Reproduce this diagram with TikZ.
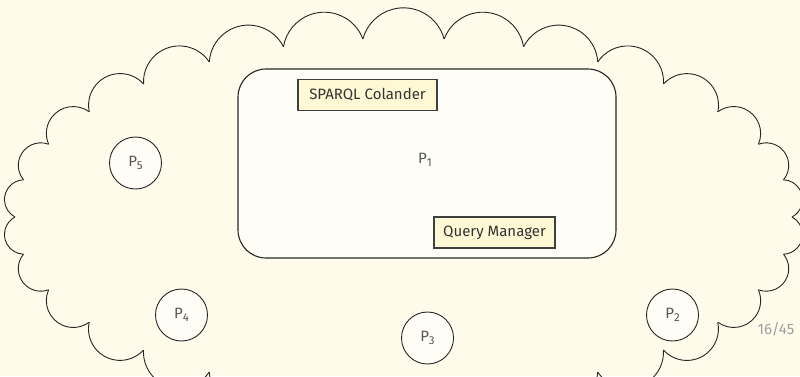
\documentclass[tikz,border=0pt]{standalone}
\usepackage{fontspec}
\setmainfont{Fira Sans}
\newcommand\peersub[1]{\raisebox{-0.4ex}{\fontsize{11.5}{12}\selectfont #1}}
\begin{document}
\begin{tikzpicture}[x=1pt,y=1pt,
  font=\fontsize{15}{18}\selectfont,
  cloudline/.style={draw=black!85, line width=0.9pt},
  peer/.style={circle, draw=black!85, line width=0.9pt, fill=paleface,
    minimum size=52pt, inner sep=0pt, text=textgray},
  module/.style={draw=black!75, line width=1.1pt, fill=boxyellow,
    minimum height=31pt, inner sep=0pt, text=black!80},
  host/.style={draw=black!85, line width=1.1pt, fill=paleface,
    rounded corners=28pt}]
\definecolor{slidebg}{HTML}{FEFBEA}
\definecolor{paleface}{HTML}{FFFEF6}
\definecolor{boxyellow}{HTML}{FFF8D4}
\definecolor{textgray}{HTML}{555555}
\definecolor{pagegray}{HTML}{A0A0A0}
% slide area
\fill[slidebg] (0,0) rectangle (800,-376);
\useasboundingbox (0,0) rectangle (800,-376);
\clip (0,0) rectangle (800,-376);
% cloud outline: 30 puffs whose cusps sit on an ellipse
\foreach \k in {0,...,29} {
  \pgfmathsetmacro\ta{12*\k}
  \pgfmathsetmacro\tb{12*(\k+1)}
  \pgfmathsetmacro\ax{403.5+388.5*cos(\ta)}
  \pgfmathsetmacro\ay{-217+179*sin(\ta)}
  \pgfmathsetmacro\bx{403.5+388.5*cos(\tb)}
  \pgfmathsetmacro\by{-217+179*sin(\tb)}
  \pgfmathsetmacro\ang{atan2(\by-\ay,\bx-\ax)}
  \pgfmathsetmacro\rr{veclen(\bx-\ax,\by-\ay)/2/sin(75)}
  \draw[cloudline] (\ax,\ay) arc[start angle=\ang-165, end angle=\ang-15, radius=\rr pt];
}
% peer P1 with its two modules
\draw[host] (238,-69) rectangle (616,-258);
\node[text=textgray] (p1) at (425,-160) {P\peersub{1}};
\node[module, minimum width=139pt] (colander) at (367.5,-95) {SPARQL Colander};
\node[module, minimum width=121pt] (manager) at (494.5,-232.5) {Query Manager};
% other peers
\node[peer] (p2) at (672.5,-315) {P\peersub{2}};
\node[peer] (p3) at (427.5,-338) {P\peersub{3}};
\node[peer] (p4) at (181.5,-315) {P\peersub{4}};
\node[peer] (p5) at (135.5,-163) {P\peersub{5}};
% page number
\node[text=pagegray] (page) at (776,-329) {16/45};
\end{tikzpicture}
\end{document}
